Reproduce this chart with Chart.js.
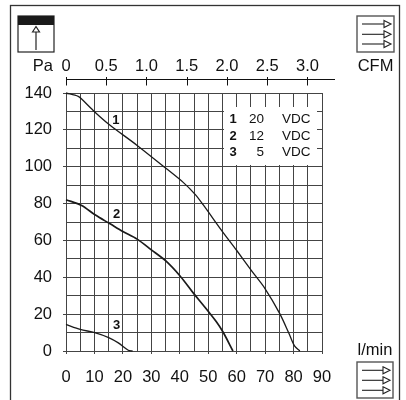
<!DOCTYPE html>
<html>
<head>
<meta charset="utf-8">
<title>Fan curve</title>
<script src="https://cdn.jsdelivr.net/npm/chart.js@4"></script>
<style>
  html, body { margin: 0; padding: 0; background: #fff; }
  canvas { display: block; }
</style>
</head>
<body>
<canvas id="chart" width="406" height="400"></canvas>
<script>
const flow1 = [0, 4.3, 5.5, 10.2, 15.5, 24.9, 35, 41.2, 45.4, 48.2, 55, 59.9, 65.2, 69.9, 75.1, 78.4, 80.4, 82.2];
const pres1 = [140, 138.2, 136.7, 129.6, 122.5, 111.7, 99.3, 91.5, 85, 79.4, 64.8, 54.8, 43.6, 34, 20.4, 9.5, 2.6, 0];
const flow2 = [0, 5.5, 10.2, 15.5, 20, 25, 30, 35, 40.1, 45, 48.2, 52.8, 55.2, 58.7];
const pres2 = [82.1, 79, 73.9, 69, 64.8, 60.7, 54.9, 49, 40.7, 31, 25, 16, 10.3, 0];
const flow3 = [0, 5, 10.1, 15, 18.4, 21.9, 23.4];
const pres3 = [14.4, 11.7, 10, 7.3, 4.4, 0.4, 0];

const curveIds = ["1", "2", "3"];
const curveLabelFlow = [17.5, 17.8, 17.8];
const curveLabelPres = [125, 74, 14];
const legendVolts = ["20", "12", "5"];
const legendUnit = "VDC";

const flowMax = 90;
const presMax = 140;
const cfmMax = flowMax / 28.3;

const ink = "#111";
const gridInk = "#444";
const font = '"Liberation Sans", Arial, sans-serif';

function toPoints(xs, ys) {
  return xs.map((x, i) => ({ x, y: ys[i] }));
}

function curve(xs, ys, width) {
  return {
    data: toPoints(xs, ys),
    borderColor: "#1a1a1a",
    borderWidth: width,
    pointRadius: 0,
    tension: 0.3,
    clip: false
  };
}

function arrow(ctx, x1, x2, y) {
  ctx.beginPath();
  ctx.moveTo(x1, y);
  ctx.lineTo(x2 - 7, y);
  ctx.stroke();
  ctx.beginPath();
  ctx.moveTo(x2 - 7, y - 3.5);
  ctx.lineTo(x2, y);
  ctx.lineTo(x2 - 7, y + 3.5);
  ctx.closePath();
  ctx.stroke();
}

function flowIcon(ctx, x, y, w, h, rows) {
  ctx.strokeStyle = "#555";
  ctx.lineWidth = 1.4;
  ctx.strokeRect(x, y, w, h);
  ctx.strokeStyle = "#222";
  ctx.lineWidth = 1.1;
  rows.forEach(r => arrow(ctx, x + 5, x + w - 3, r));
}

const decorations = {
  id: "decorations",
  beforeDatasetsDraw(chart) {
    // white panel holding the voltage key, covers the grid
    chart.ctx.fillStyle = "#fff";
    chart.ctx.fillRect(224, 107, 93, 58);
  },
  afterDatasetsDraw(chart) {
    const ctx = chart.ctx;
    const x = chart.scales.x;
    const y = chart.scales.y;
    const top = chart.scales.x2;

    ctx.save();

    // outer frame, runs off the bottom
    ctx.strokeStyle = "#333";
    ctx.lineWidth = 1.3;
    ctx.strokeRect(10.5, 5.5, 389, 400);

    // pressure icon
    ctx.strokeStyle = "#222";
    ctx.lineWidth = 1.2;
    ctx.strokeRect(18, 16, 36, 36);
    ctx.fillStyle = "#1a1a1a";
    ctx.fillRect(18, 16, 36, 9);
    ctx.beginPath();
    ctx.moveTo(36, 50);
    ctx.lineTo(36, 32);
    ctx.stroke();
    ctx.beginPath();
    ctx.moveTo(32.5, 32);
    ctx.lineTo(36, 26.5);
    ctx.lineTo(39.5, 32);
    ctx.closePath();
    ctx.stroke();

    flowIcon(ctx, 357, 16, 37, 36, [24, 34.3, 44]);
    flowIcon(ctx, 357, 362, 36, 36, [370.3, 380.3, 390.3]);

    // CFM axis: line runs past the plot, ticks cross it
    const axisY = 79.5;
    ctx.strokeStyle = ink;
    ctx.lineWidth = 1;
    ctx.beginPath();
    ctx.moveTo(top.left, axisY);
    ctx.lineTo(335, axisY);
    top.ticks.forEach(t => {
      const px = Math.round(top.getPixelForValue(t.value)) + 0.5;
      ctx.moveTo(px, axisY - 2.5);
      ctx.lineTo(px, axisY + 6);
    });
    ctx.stroke();

    ctx.fillStyle = ink;
    ctx.textBaseline = "middle";

    ctx.font = "16.5px " + font;
    ctx.textAlign = "right";
    ctx.fillText("Pa", 53, 66);
    ctx.textAlign = "center";
    ctx.fillText("CFM", 375.5, 66);
    ctx.fillText("l/min", 375, 350);

    // curve numbers
    ctx.font = "bold 13px " + font;
    curveIds.forEach((id, i) => {
      ctx.fillText(id, x.getPixelForValue(curveLabelFlow[i]), y.getPixelForValue(curveLabelPres[i]));
    });

    // voltage key
    curveIds.forEach((id, i) => {
      const rowY = 119.5 + i * 16.5;
      ctx.font = "bold 13px " + font;
      ctx.textAlign = "center";
      ctx.fillText(id, 233, rowY);
      ctx.font = "13.5px " + font;
      ctx.textAlign = "right";
      ctx.fillText(legendVolts[i], 264, rowY);
      ctx.textAlign = "left";
      ctx.fillText(legendUnit, 282, rowY);
    });

    ctx.restore();
  }
};

new Chart(document.getElementById("chart"), {
  type: "line",
  data: {
    datasets: [
      curve(flow1, pres1, 1.3),
      curve(flow2, pres2, 1.7),
      curve(flow3, pres3, 1.3)
    ]
  },
  options: {
    responsive: false,
    animation: false,
    layout: { padding: { left: 0, top: 0, right: 84, bottom: 0 } },
    plugins: { legend: { display: false }, tooltip: { enabled: false } },
    scales: {
      x: {
        type: "linear",
        position: "bottom",
        min: 0,
        max: flowMax,
        afterFit: s => { s.height = 49; },
        border: { color: gridInk },
        grid: {
          color: gridInk,
          tickLength: 3,
          tickColor: c => (c.tick && c.tick.value % 10 === 0 ? gridInk : "transparent")
        },
        ticks: {
          stepSize: 5,
          autoSkip: false,
          maxRotation: 0,
          padding: 14,
          color: ink,
          font: { family: font, size: 16.5 },
          callback: v => (v % 10 === 0 ? String(v) : "")
        }
      },
      y: {
        type: "linear",
        position: "left",
        min: 0,
        max: presMax,
        afterFit: s => { s.width = 66; },
        border: { color: gridInk },
        grid: {
          color: gridInk,
          tickLength: 3,
          tickColor: c => (c.tick && c.tick.value % 20 === 0 ? gridInk : "transparent")
        },
        ticks: {
          stepSize: 10,
          autoSkip: false,
          padding: 11,
          color: ink,
          font: { family: font, size: 16.5 },
          callback: v => (v % 20 === 0 ? String(v) : "")
        }
      },
      x2: {
        type: "linear",
        axis: "x",
        position: "top",
        weight: 1,
        min: 0,
        max: cfmMax,
        afterFit: s => { s.height = 80; },
        border: { display: false },
        grid: { drawOnChartArea: false, drawTicks: false },
        ticks: {
          stepSize: 0.5,
          includeBounds: false,
          autoSkip: false,
          maxRotation: 0,
          padding: 4,
          color: ink,
          font: { family: font, size: 16.5 },
          callback: v => (v === 0 ? "0" : v.toFixed(1))
        }
      },
      // empty axis, only keeps the CFM axis away from the plot
      x3: {
        type: "linear",
        axis: "x",
        position: "top",
        weight: 0,
        min: 0,
        max: flowMax,
        afterFit: s => { s.height = 13; },
        border: { display: false },
        grid: { display: false },
        ticks: { display: false }
      }
    }
  },
  plugins: [decorations]
});
</script>
</body>
</html>
